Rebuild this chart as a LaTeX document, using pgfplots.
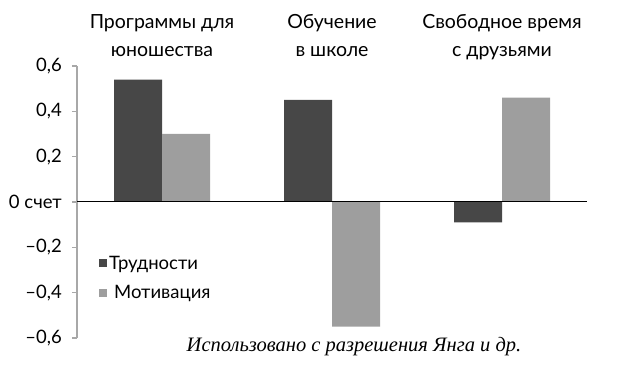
\documentclass[border=0pt]{standalone}
\usepackage{fontspec}
\setmainfont{Lato}
\newfontfamily\capfont{Liberation Serif}
\usepackage{pgfplots}
\pgfplotsset{compat=1.18}
\definecolor{darkbar}{HTML}{474747}
\definecolor{lightbar}{HTML}{9E9E9E}
\definecolor{axgray}{HTML}{A8A8A8}
\begin{document}
\begin{tikzpicture}[x=1pt,y=1pt]
\path[use as bounding box] (0,0) rectangle (618,366);
\begin{axis}[
  at={(77pt,28pt)}, anchor=south west,
  scale only axis, width=510pt, height=272pt,
  xmin=-0.5, xmax=2.5, ymin=-0.6, ymax=0.6,
  clip=false,
  axis x line=none,
  axis y line*=left,
  y axis line style={draw=axgray, line width=1.3pt, -},
  ytick={-0.6,-0.4,-0.2,0,0.2,0.4,0.6},
  yticklabels={{--0,6},{--0,4},{--0,2},{0 счет},{0,2},{0,4},{0,6}},
  tick align=outside,
  major tick length=5pt,
  ytick style={draw=axgray, line width=1.3pt},
  yticklabel style={font=\fontsize{18.5}{20}\selectfont, inner sep=0pt, xshift=-10pt},
  ybar=0pt, bar width=48pt,
  legend style={at={(rel axis cs:0.043,0.31)}, anchor=north west, draw=none, fill=none,
    font=\fontsize{18.5}{20}\selectfont, row sep=11pt, inner sep=0pt,
    nodes={inner sep=2pt}},
  legend cell align=left,
  legend image code/.code={\fill[#1] (0pt,-4pt) rectangle (8pt,4pt);},
]
\addplot[fill=darkbar, draw=none] coordinates {(0,0.54) (1,0.45) (2,-0.09)};
\addlegendentry{Трудности}
\addplot[fill=lightbar, draw=none] coordinates {(0,0.30) (1,-0.55) (2,0.46)};
\addlegendentry{\hspace{5pt}Мотивация}
\draw[black, line width=1pt] (axis cs:-0.5,0) -- (axis cs:2.5,0);
\begin{scope}[every node/.style={anchor=base, font=\fontsize{19.5}{20}\selectfont, inner sep=0pt}]
\node at (axis cs:0,0.6) [yshift=37pt] {Программы для};
\node at (axis cs:0,0.6) [yshift=9pt] {юношества};
\node at (axis cs:1,0.6) [yshift=37pt] {Обучение};
\node at (axis cs:1,0.6) [yshift=9pt] {в школе};
\node at (axis cs:2,0.6) [yshift=37pt] {Свободное время};
\node at (axis cs:2,0.6) [yshift=9pt] {с друзьями};
\end{scope}
\end{axis}
\node[anchor=base, inner sep=0pt, font=\capfont\itshape\fontsize{20.5}{22}\selectfont] at (354,14) {Использовано с разрешения Янга и др.};
\end{tikzpicture}
\end{document}
